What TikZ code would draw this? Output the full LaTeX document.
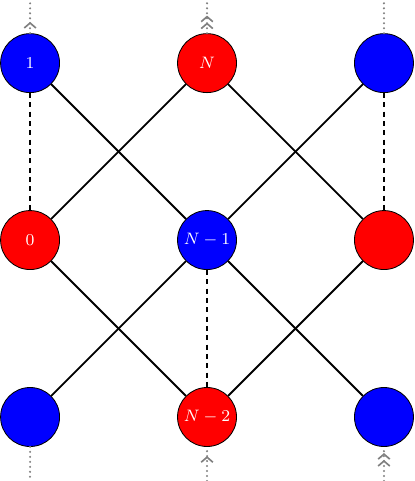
\documentclass[tikz,border=0pt]{standalone}
\usetikzlibrary{arrows.meta,decorations.markings}
\begin{document}
\begin{tikzpicture}[x=1cm,y=1cm,
  blu/.style={circle,draw=black,fill=blue,text=white,minimum size=1cm,inner sep=0pt,font=\footnotesize},
  rd/.style={circle,draw=black,fill=red,text=white,minimum size=1cm,inner sep=0pt,font=\footnotesize},
  link/.style={line width=0.9pt},
  dlink/.style={line width=0.9pt,dash pattern=on 2.4pt off 2.1pt},
  dotl/.style={gray,line width=1.1pt,line cap=round,dash pattern=on 0pt off 2.4pt},
  onechev/.style={postaction={decorate},decoration={markings,mark=at position #1 with {\arrow[gray,line width=0.8pt]{Straight Barb[length=2.4pt,width=5.6pt]}}}},
  twochev/.style={postaction={decorate},decoration={markings,mark=at position #1 with {\arrow[gray,line width=0.8pt]{Straight Barb[length=2.4pt,width=5.6pt]Straight Barb[length=2.4pt,width=5.6pt]}}}}
]
\useasboundingbox (-0.51,-1.085) rectangle (6.51,7.07);
% nodes (y up)
\node[blu] (a1) at (0,6) {$1$};
\node[rd]  (aN) at (3,6) {$N$};
\node[blu] (ar) at (6,6) {};
\node[rd]  (b0) at (0,3) {$0$};
\node[blu] (bN) at (3,3) {$N-1$};
\node[rd]  (br) at (6,3) {};
\node[blu] (c0) at (0,0) {};
\node[rd]  (cN) at (3,0) {$N-2$};
\node[blu] (cr) at (6,0) {};
% boundary coordinates
\coordinate (t0) at (0,7.07);
\coordinate (t1) at (3,7.07);
\coordinate (t2) at (6,7.07);
\coordinate (u0) at (0,-1.085);
\coordinate (u1) at (3,-1.085);
\coordinate (u2) at (6,-1.085);
% solid links
\draw[link] (a1) -- (bN);
\draw[link] (aN) -- (b0);
\draw[link] (aN) -- (br);
\draw[link] (ar) -- (bN);
\draw[link] (b0) -- (cN);
\draw[link] (bN) -- (c0);
\draw[link] (bN) -- (cr);
\draw[link] (br) -- (cN);
% dashed links
\draw[dlink] (a1) -- (b0);
\draw[dlink] (ar) -- (br);
\draw[dlink] (bN) -- (cN);
% dotted boundary links
\draw[dotl,onechev=0.34] (a1) -- (t0);
\draw[dotl,twochev=0.53] (aN) -- (t1);
\draw[dotl] (ar) -- (t2);
\draw[dotl] (c0) -- (u0);
\draw[dotl,onechev=0.73] (u1) -- (cN);
\draw[dotl,twochev=0.82] (u2) -- (cr);
\end{tikzpicture}
\end{document}
